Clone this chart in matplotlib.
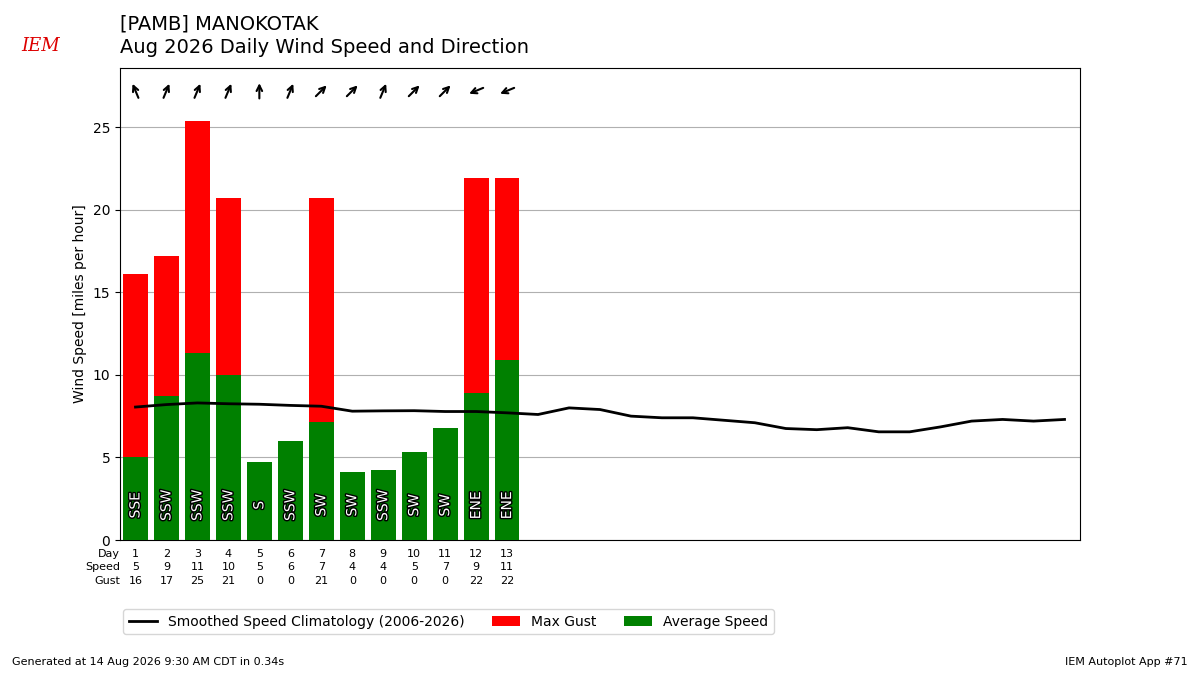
import matplotlib
matplotlib.use("Agg")
import matplotlib.pyplot as plt
import matplotlib.patheffects as PathEffects
import matplotlib.transforms as mtransforms
import numpy as np

days = list(range(1, 14))
avg_speed = [5.0, 8.7, 11.3, 10.0, 4.75, 6.0, 7.15, 4.1, 4.25, 5.35, 6.8, 8.9, 10.9]
max_gust = [16.1, 17.2, 25.4, 20.7, 0, 0, 20.7, 0, 0, 0, 0, 21.9, 21.9]
directions = ["SSE", "SSW", "SSW", "SSW", "S", "SSW", "SW", "SW", "SSW", "SW", "SW", "ENE", "ENE"]
clim_days = list(range(1, 32))
clim_speed = [8.05, 8.2, 8.3, 8.25, 8.22, 8.15, 8.1, 7.8, 7.82, 7.83, 7.78, 7.78, 7.7, 7.6,
              8.0, 7.9, 7.5, 7.4, 7.4, 7.25, 7.1, 6.75, 6.68, 6.8, 6.55, 6.55, 6.85, 7.2,
              7.3, 7.2, 7.3]

compass = ["N", "NNE", "NE", "ENE", "E", "ESE", "SE", "SSE",
           "S", "SSW", "SW", "WSW", "W", "WNW", "NW", "NNW"]

fig = plt.figure(figsize=(12, 6.75), dpi=100)
ax = fig.add_axes([0.1, 0.2, 0.8, 0.699])

ax.bar(days, max_gust, color="r", label="Max Gust", zorder=2)
ax.bar(days, avg_speed, color="g", label="Average Speed", zorder=3)
ax.plot(clim_days, clim_speed, color="k", lw=2, zorder=4,
        label="Smoothed Speed Climatology (2006-2026)")

L = 5.5
for d, txt in zip(days, directions):
    t = ax.text(d, 2.1, txt, rotation=90, ha="center", va="center", color="white",
                fontsize=10, zorder=5)
    t.set_path_effects([PathEffects.withStroke(linewidth=2, foreground="k")])
    # arrow points where the wind blows to
    ang = np.radians(compass.index(txt) * 22.5 + 180)
    ux, uy = np.sin(ang), np.cos(ang)
    head = mtransforms.offset_copy(ax.transData, fig=fig, x=ux * L, y=uy * L, units="points")
    ax.annotate("", xy=(d, 27.2), xycoords=head,
                xytext=(-ux * 2 * L, -uy * 2 * L), textcoords="offset points",
                arrowprops=dict(arrowstyle="->", lw=1.5, color="k",
                                shrinkA=0, shrinkB=0))

ax.set_xlim(0.5, 31.5)
ax.set_ylim(0, 28.57)
ax.set_xticks([])
ax.set_yticks([0, 5, 10, 15, 20, 25])
ax.yaxis.grid(True, zorder=0)
ax.set_axisbelow(True)
ax.set_ylabel("Wind Speed [miles per hour]")

trans = ax.get_xaxis_transform()
for yy, lab in [(-0.03, "Day"), (-0.058, "Speed"), (-0.086, "Gust")]:
    ax.text(0.5, yy, lab, transform=trans, ha="right", va="center", fontsize=8)
for d, s, g in zip(days, avg_speed, max_gust):
    ax.text(d, -0.03, str(d), transform=trans, ha="center", va="center", fontsize=8)
    ax.text(d, -0.058, "%.0f" % s, transform=trans, ha="center", va="center", fontsize=8)
    ax.text(d, -0.086, "%.0f" % g, transform=trans, ha="center", va="center", fontsize=8)

h, l = ax.get_legend_handles_labels()
fig.legend(h, l, ncol=3, loc="center left", bbox_to_anchor=(0.097, 0.079), fontsize=10)

fig.text(0.1, 0.965, "[PAMB] MANOKOTAK", fontsize=14, va="center")
fig.text(0.1, 0.929, "Aug 2026 Daily Wind Speed and Direction", fontsize=14, va="center")
fig.text(0.018, 0.925, "IEM", color="#d00", fontsize=13, style="italic", family="serif")
fig.text(0.01, 0.015, "Generated at 14 Aug 2026 9:30 AM CDT in 0.34s", fontsize=8)
fig.text(0.99, 0.015, "IEM Autoplot App #71", fontsize=8, ha="right")

fig.savefig("out.png")
